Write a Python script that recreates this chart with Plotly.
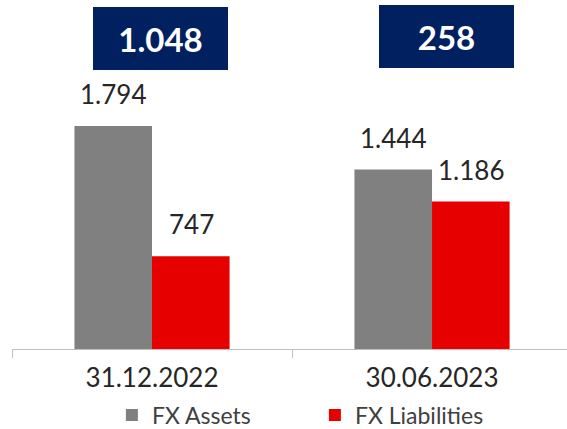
import plotly.graph_objects as go

categories = ["31.12.2022", "30.06.2023"]
fx_assets = [1794, 1444]
fx_liabilities = [747, 1186]
net_position = [1048, 258]
series_names = ["FX Assets", "FX Liabilities"]

def fmt(v):
    return f"{v:,}".replace(",", ".")

FONT = "Lato"
GRAY = "#808080"
RED = "#E60000"
NAVY = "#002060"
TXT = "#262626"

fig = go.Figure()
fig.add_trace(go.Bar(x=categories, y=fx_assets, name=series_names[0],
                     marker=dict(color=GRAY, line=dict(width=0))))
fig.add_trace(go.Bar(x=categories, y=fx_liabilities, name=series_names[1],
                     marker=dict(color=RED, line=dict(width=0))))

annotations = []
for i, c in enumerate(categories):
    annotations.append(dict(x=c, y=fx_assets[i], xref="x", yref="y", text=fmt(fx_assets[i]),
                            showarrow=False, xshift=-39, yanchor="bottom", yshift=14,
                            font=dict(family=FONT, size=26, color=TXT)))
    annotations.append(dict(x=c, y=fx_liabilities[i], xref="x", yref="y", text=fmt(fx_liabilities[i]),
                            showarrow=False, xshift=39, yanchor="bottom", yshift=14,
                            font=dict(family=FONT, size=26, color=TXT)))
box_shift = [8, 14]
box_y = [-7, -5]
for i, c in enumerate(categories):
    annotations.append(dict(x=c, y=1, xref="x", yref="paper", text="<b>" + fmt(net_position[i]) + "</b>",
                            showarrow=False, xshift=box_shift[i], yanchor="top", yshift=box_y[i],
                            width=135, height=63, bgcolor=NAVY, borderpad=0,
                            borderwidth=0,
                            font=dict(family=FONT, size=33, color="white")))

fig.update_layout(
    width=567, height=429,
    margin=dict(l=12, r=0, t=0, b=80, autoexpand=False),
    paper_bgcolor="white", plot_bgcolor="white",
    barmode="group", bargap=0.446, bargroupgap=0,
    font=dict(family=FONT, color=TXT),
    xaxis=dict(type="category", range=[-0.5, 1.482], showline=True, linecolor="#BFBFBF",
               linewidth=1, ticks="outside", tickson="boundaries", ticklen=8,
               tickcolor="#BFBFBF", tickfont=dict(family=FONT, size=26, color=TXT),
               ticklabelstandoff=6,
               showgrid=False, zeroline=False, fixedrange=True, automargin=False),
    yaxis=dict(range=[0, 2808], visible=False, showgrid=False, zeroline=False, automargin=False),
    showlegend=True,
    legend=dict(orientation="h", x=0.18, xanchor="left", y=-0.189, yanchor="middle",
                font=dict(family=FONT, size=23, color="#404040"),
                entrywidth=158, entrywidthmode="pixels", itemclick=False,
                bgcolor="rgba(0,0,0,0)"),
    annotations=annotations,
)

fig.write_html("out.html", config={"displayModeBar": False},
               post_script="document.body.style.margin='0';document.body.style.padding='0';")
